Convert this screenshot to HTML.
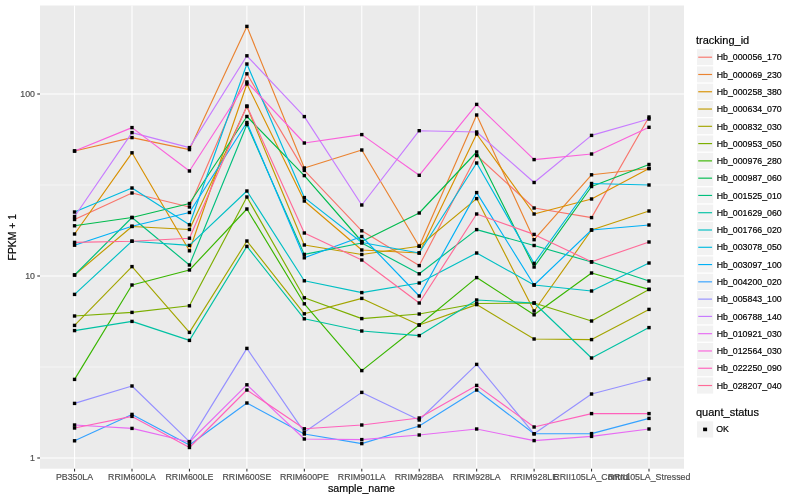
<!DOCTYPE html><html><head><meta charset="utf-8"><title>plot</title><style>html,body{margin:0;padding:0;background:#fff}svg{display:block}text{font-family:"Liberation Sans",Arial,sans-serif;stroke-width:0.18px}</style></head><body>
<svg width="800" height="500" viewBox="0 0 800 500">
<rect width="800" height="500" fill="#fff"/>
<rect x="40" y="5.5" width="644" height="463.2" fill="#EBEBEB"/>
<line x1="40" x2="684" y1="185" y2="185" stroke="#fff" stroke-width="0.55"/>
<line x1="40" x2="684" y1="367" y2="367" stroke="#fff" stroke-width="0.55"/>
<line x1="40" x2="684" y1="94" y2="94" stroke="#fff" stroke-width="1.07"/>
<line x1="40" x2="684" y1="276" y2="276" stroke="#fff" stroke-width="1.07"/>
<line x1="40" x2="684" y1="458" y2="458" stroke="#fff" stroke-width="1.07"/>
<line x1="74.56" x2="74.56" y1="5.5" y2="468.7" stroke="#fff" stroke-width="1.07"/>
<line x1="132.00" x2="132.00" y1="5.5" y2="468.7" stroke="#fff" stroke-width="1.07"/>
<line x1="189.44" x2="189.44" y1="5.5" y2="468.7" stroke="#fff" stroke-width="1.07"/>
<line x1="246.89" x2="246.89" y1="5.5" y2="468.7" stroke="#fff" stroke-width="1.07"/>
<line x1="304.33" x2="304.33" y1="5.5" y2="468.7" stroke="#fff" stroke-width="1.07"/>
<line x1="361.78" x2="361.78" y1="5.5" y2="468.7" stroke="#fff" stroke-width="1.07"/>
<line x1="419.22" x2="419.22" y1="5.5" y2="468.7" stroke="#fff" stroke-width="1.07"/>
<line x1="476.66" x2="476.66" y1="5.5" y2="468.7" stroke="#fff" stroke-width="1.07"/>
<line x1="534.11" x2="534.11" y1="5.5" y2="468.7" stroke="#fff" stroke-width="1.07"/>
<line x1="591.55" x2="591.55" y1="5.5" y2="468.7" stroke="#fff" stroke-width="1.07"/>
<line x1="649.00" x2="649.00" y1="5.5" y2="468.7" stroke="#fff" stroke-width="1.07"/>
<polyline fill="none" stroke="#F8766D" stroke-width="1.15" stroke-linejoin="round" points="74.56,219.50 132.00,193.00 189.44,207.00 246.89,73.80 304.33,170.40 361.78,230.80 419.22,265.60 476.66,155.50 534.11,208.00 591.55,217.60 649.00,117.00"/>
<polyline fill="none" stroke="#EA8331" stroke-width="1.15" stroke-linejoin="round" points="74.56,151.00 132.00,137.60 189.44,149.60 246.89,26.40 304.33,168.00 361.78,150.00 419.22,246.20 476.66,115.00 534.11,239.70 591.55,174.80 649.00,168.50"/>
<polyline fill="none" stroke="#D89000" stroke-width="1.15" stroke-linejoin="round" points="74.56,234.00 132.00,152.80 189.44,250.80 246.89,84.00 304.33,201.00 361.78,250.00 419.22,253.00 476.66,134.00 534.11,214.00 591.55,199.00 649.00,168.50"/>
<polyline fill="none" stroke="#C09B00" stroke-width="1.15" stroke-linejoin="round" points="74.56,275.00 132.00,226.50 189.44,229.50 246.89,106.50 304.33,245.00 361.78,254.50 419.22,246.20 476.66,198.60 534.11,311.00 591.55,230.00 649.00,211.00"/>
<polyline fill="none" stroke="#A3A500" stroke-width="1.15" stroke-linejoin="round" points="74.56,325.40 132.00,266.60 189.44,332.40 246.89,241.00 304.33,313.80 361.78,298.40 419.22,325.00 476.66,304.60 534.11,339.00 591.55,339.60 649.00,309.40"/>
<polyline fill="none" stroke="#7CAE00" stroke-width="1.15" stroke-linejoin="round" points="74.56,316.00 132.00,312.40 189.44,305.80 246.89,197.00 304.33,297.80 361.78,318.60 419.22,314.00 476.66,303.50 534.11,303.00 591.55,321.00 649.00,289.40"/>
<polyline fill="none" stroke="#39B600" stroke-width="1.15" stroke-linejoin="round" points="74.56,379.40 132.00,285.00 189.44,270.00 246.89,209.00 304.33,303.80 361.78,370.60 419.22,325.00 476.66,277.60 534.11,314.80 591.55,273.00 649.00,289.40"/>
<polyline fill="none" stroke="#00BB4E" stroke-width="1.15" stroke-linejoin="round" points="74.56,225.80 132.00,217.50 189.44,203.50 246.89,116.50 304.33,175.60 361.78,241.50 419.22,213.00 476.66,152.00 534.11,267.00 591.55,186.50 649.00,164.50"/>
<polyline fill="none" stroke="#00BF7D" stroke-width="1.15" stroke-linejoin="round" points="74.56,275.00 132.00,217.50 189.44,265.00 246.89,124.50 304.33,254.40 361.78,243.00 419.22,273.80 476.66,229.60 534.11,245.50 591.55,262.00 649.00,281.00"/>
<polyline fill="none" stroke="#00C1A3" stroke-width="1.15" stroke-linejoin="round" points="74.56,330.60 132.00,321.40 189.44,340.40 246.89,246.40 304.33,318.80 361.78,331.00 419.22,335.60 476.66,300.00 534.11,303.00 591.55,358.00 649.00,327.60"/>
<polyline fill="none" stroke="#00BFC4" stroke-width="1.15" stroke-linejoin="round" points="74.56,294.40 132.00,241.20 189.44,245.40 246.89,191.00 304.33,280.80 361.78,292.60 419.22,283.00 476.66,253.00 534.11,285.00 591.55,291.00 649.00,263.00"/>
<polyline fill="none" stroke="#00BAE0" stroke-width="1.15" stroke-linejoin="round" points="74.56,212.00 132.00,188.00 189.44,224.80 246.89,64.00 304.33,197.60 361.78,242.50 419.22,253.00 476.66,163.00 534.11,263.40 591.55,183.50 649.00,185.00"/>
<polyline fill="none" stroke="#00B0F6" stroke-width="1.15" stroke-linejoin="round" points="74.56,245.20 132.00,226.20 189.44,212.50 246.89,122.50 304.33,257.80 361.78,236.50 419.22,296.00 476.66,192.60 534.11,285.00 591.55,230.00 649.00,225.00"/>
<polyline fill="none" stroke="#35A2FF" stroke-width="1.15" stroke-linejoin="round" points="74.56,440.80 132.00,414.40 189.44,445.00 246.89,403.00 304.33,434.00 361.78,443.60 419.22,426.00 476.66,390.00 534.11,433.80 591.55,433.60 649.00,418.40"/>
<polyline fill="none" stroke="#9590FF" stroke-width="1.15" stroke-linejoin="round" points="74.56,403.40 132.00,386.00 189.44,441.60 246.89,348.40 304.33,432.20 361.78,392.40 419.22,420.00 476.66,364.40 534.11,433.80 591.55,394.00 649.00,379.00"/>
<polyline fill="none" stroke="#C77CFF" stroke-width="1.15" stroke-linejoin="round" points="74.56,216.50 132.00,132.60 189.44,147.60 246.89,55.80 304.33,116.60 361.78,205.00 419.22,130.70 476.66,132.00 534.11,182.50 591.55,135.40 649.00,119.00"/>
<polyline fill="none" stroke="#E76BF3" stroke-width="1.15" stroke-linejoin="round" points="74.56,425.00 132.00,428.40 189.44,442.00 246.89,384.80 304.33,439.00 361.78,439.60 419.22,435.00 476.66,429.00 534.11,440.60 591.55,436.40 649.00,429.00"/>
<polyline fill="none" stroke="#FA62DB" stroke-width="1.15" stroke-linejoin="round" points="74.56,151.00 132.00,127.60 189.44,171.00 246.89,82.00 304.33,143.00 361.78,134.60 419.22,175.30 476.66,104.40 534.11,159.60 591.55,154.00 649.00,127.30"/>
<polyline fill="none" stroke="#FF62BC" stroke-width="1.15" stroke-linejoin="round" points="74.56,428.00 132.00,416.40 189.44,447.50 246.89,390.00 304.33,428.80 361.78,425.00 419.22,418.00 476.66,385.40 534.11,427.00 591.55,413.60 649.00,413.60"/>
<polyline fill="none" stroke="#FF6A98" stroke-width="1.15" stroke-linejoin="round" points="74.56,242.40 132.00,241.20 189.44,238.20 246.89,106.00 304.33,233.00 361.78,260.00 419.22,303.00 476.66,214.00 534.11,234.40 591.55,261.80 649.00,242.00"/>
<g fill="#000">
<rect x="72.86" y="217.80" width="3.4" height="3.4"/>
<rect x="130.30" y="191.30" width="3.4" height="3.4"/>
<rect x="187.74" y="205.30" width="3.4" height="3.4"/>
<rect x="245.19" y="72.10" width="3.4" height="3.4"/>
<rect x="302.63" y="168.70" width="3.4" height="3.4"/>
<rect x="360.08" y="229.10" width="3.4" height="3.4"/>
<rect x="417.52" y="263.90" width="3.4" height="3.4"/>
<rect x="474.96" y="153.80" width="3.4" height="3.4"/>
<rect x="532.41" y="206.30" width="3.4" height="3.4"/>
<rect x="589.85" y="215.90" width="3.4" height="3.4"/>
<rect x="647.30" y="115.30" width="3.4" height="3.4"/>
<rect x="72.86" y="149.30" width="3.4" height="3.4"/>
<rect x="130.30" y="135.90" width="3.4" height="3.4"/>
<rect x="187.74" y="147.90" width="3.4" height="3.4"/>
<rect x="245.19" y="24.70" width="3.4" height="3.4"/>
<rect x="302.63" y="166.30" width="3.4" height="3.4"/>
<rect x="360.08" y="148.30" width="3.4" height="3.4"/>
<rect x="417.52" y="244.50" width="3.4" height="3.4"/>
<rect x="474.96" y="113.30" width="3.4" height="3.4"/>
<rect x="532.41" y="238.00" width="3.4" height="3.4"/>
<rect x="589.85" y="173.10" width="3.4" height="3.4"/>
<rect x="647.30" y="166.80" width="3.4" height="3.4"/>
<rect x="72.86" y="232.30" width="3.4" height="3.4"/>
<rect x="130.30" y="151.10" width="3.4" height="3.4"/>
<rect x="187.74" y="249.10" width="3.4" height="3.4"/>
<rect x="245.19" y="82.30" width="3.4" height="3.4"/>
<rect x="302.63" y="199.30" width="3.4" height="3.4"/>
<rect x="360.08" y="248.30" width="3.4" height="3.4"/>
<rect x="417.52" y="251.30" width="3.4" height="3.4"/>
<rect x="474.96" y="132.30" width="3.4" height="3.4"/>
<rect x="532.41" y="212.30" width="3.4" height="3.4"/>
<rect x="589.85" y="197.30" width="3.4" height="3.4"/>
<rect x="647.30" y="166.80" width="3.4" height="3.4"/>
<rect x="72.86" y="273.30" width="3.4" height="3.4"/>
<rect x="130.30" y="224.80" width="3.4" height="3.4"/>
<rect x="187.74" y="227.80" width="3.4" height="3.4"/>
<rect x="245.19" y="104.80" width="3.4" height="3.4"/>
<rect x="302.63" y="243.30" width="3.4" height="3.4"/>
<rect x="360.08" y="252.80" width="3.4" height="3.4"/>
<rect x="417.52" y="244.50" width="3.4" height="3.4"/>
<rect x="474.96" y="196.90" width="3.4" height="3.4"/>
<rect x="532.41" y="309.30" width="3.4" height="3.4"/>
<rect x="589.85" y="228.30" width="3.4" height="3.4"/>
<rect x="647.30" y="209.30" width="3.4" height="3.4"/>
<rect x="72.86" y="323.70" width="3.4" height="3.4"/>
<rect x="130.30" y="264.90" width="3.4" height="3.4"/>
<rect x="187.74" y="330.70" width="3.4" height="3.4"/>
<rect x="245.19" y="239.30" width="3.4" height="3.4"/>
<rect x="302.63" y="312.10" width="3.4" height="3.4"/>
<rect x="360.08" y="296.70" width="3.4" height="3.4"/>
<rect x="417.52" y="323.30" width="3.4" height="3.4"/>
<rect x="474.96" y="302.90" width="3.4" height="3.4"/>
<rect x="532.41" y="337.30" width="3.4" height="3.4"/>
<rect x="589.85" y="337.90" width="3.4" height="3.4"/>
<rect x="647.30" y="307.70" width="3.4" height="3.4"/>
<rect x="72.86" y="314.30" width="3.4" height="3.4"/>
<rect x="130.30" y="310.70" width="3.4" height="3.4"/>
<rect x="187.74" y="304.10" width="3.4" height="3.4"/>
<rect x="245.19" y="195.30" width="3.4" height="3.4"/>
<rect x="302.63" y="296.10" width="3.4" height="3.4"/>
<rect x="360.08" y="316.90" width="3.4" height="3.4"/>
<rect x="417.52" y="312.30" width="3.4" height="3.4"/>
<rect x="474.96" y="301.80" width="3.4" height="3.4"/>
<rect x="532.41" y="301.30" width="3.4" height="3.4"/>
<rect x="589.85" y="319.30" width="3.4" height="3.4"/>
<rect x="647.30" y="287.70" width="3.4" height="3.4"/>
<rect x="72.86" y="377.70" width="3.4" height="3.4"/>
<rect x="130.30" y="283.30" width="3.4" height="3.4"/>
<rect x="187.74" y="268.30" width="3.4" height="3.4"/>
<rect x="245.19" y="207.30" width="3.4" height="3.4"/>
<rect x="302.63" y="302.10" width="3.4" height="3.4"/>
<rect x="360.08" y="368.90" width="3.4" height="3.4"/>
<rect x="417.52" y="323.30" width="3.4" height="3.4"/>
<rect x="474.96" y="275.90" width="3.4" height="3.4"/>
<rect x="532.41" y="313.10" width="3.4" height="3.4"/>
<rect x="589.85" y="271.30" width="3.4" height="3.4"/>
<rect x="647.30" y="287.70" width="3.4" height="3.4"/>
<rect x="72.86" y="224.10" width="3.4" height="3.4"/>
<rect x="130.30" y="215.80" width="3.4" height="3.4"/>
<rect x="187.74" y="201.80" width="3.4" height="3.4"/>
<rect x="245.19" y="114.80" width="3.4" height="3.4"/>
<rect x="302.63" y="173.90" width="3.4" height="3.4"/>
<rect x="360.08" y="239.80" width="3.4" height="3.4"/>
<rect x="417.52" y="211.30" width="3.4" height="3.4"/>
<rect x="474.96" y="150.30" width="3.4" height="3.4"/>
<rect x="532.41" y="265.30" width="3.4" height="3.4"/>
<rect x="589.85" y="184.80" width="3.4" height="3.4"/>
<rect x="647.30" y="162.80" width="3.4" height="3.4"/>
<rect x="72.86" y="273.30" width="3.4" height="3.4"/>
<rect x="130.30" y="215.80" width="3.4" height="3.4"/>
<rect x="187.74" y="263.30" width="3.4" height="3.4"/>
<rect x="245.19" y="122.80" width="3.4" height="3.4"/>
<rect x="302.63" y="252.70" width="3.4" height="3.4"/>
<rect x="360.08" y="241.30" width="3.4" height="3.4"/>
<rect x="417.52" y="272.10" width="3.4" height="3.4"/>
<rect x="474.96" y="227.90" width="3.4" height="3.4"/>
<rect x="532.41" y="243.80" width="3.4" height="3.4"/>
<rect x="589.85" y="260.30" width="3.4" height="3.4"/>
<rect x="647.30" y="279.30" width="3.4" height="3.4"/>
<rect x="72.86" y="328.90" width="3.4" height="3.4"/>
<rect x="130.30" y="319.70" width="3.4" height="3.4"/>
<rect x="187.74" y="338.70" width="3.4" height="3.4"/>
<rect x="245.19" y="244.70" width="3.4" height="3.4"/>
<rect x="302.63" y="317.10" width="3.4" height="3.4"/>
<rect x="360.08" y="329.30" width="3.4" height="3.4"/>
<rect x="417.52" y="333.90" width="3.4" height="3.4"/>
<rect x="474.96" y="298.30" width="3.4" height="3.4"/>
<rect x="532.41" y="301.30" width="3.4" height="3.4"/>
<rect x="589.85" y="356.30" width="3.4" height="3.4"/>
<rect x="647.30" y="325.90" width="3.4" height="3.4"/>
<rect x="72.86" y="292.70" width="3.4" height="3.4"/>
<rect x="130.30" y="239.50" width="3.4" height="3.4"/>
<rect x="187.74" y="243.70" width="3.4" height="3.4"/>
<rect x="245.19" y="189.30" width="3.4" height="3.4"/>
<rect x="302.63" y="279.10" width="3.4" height="3.4"/>
<rect x="360.08" y="290.90" width="3.4" height="3.4"/>
<rect x="417.52" y="281.30" width="3.4" height="3.4"/>
<rect x="474.96" y="251.30" width="3.4" height="3.4"/>
<rect x="532.41" y="283.30" width="3.4" height="3.4"/>
<rect x="589.85" y="289.30" width="3.4" height="3.4"/>
<rect x="647.30" y="261.30" width="3.4" height="3.4"/>
<rect x="72.86" y="210.30" width="3.4" height="3.4"/>
<rect x="130.30" y="186.30" width="3.4" height="3.4"/>
<rect x="187.74" y="223.10" width="3.4" height="3.4"/>
<rect x="245.19" y="62.30" width="3.4" height="3.4"/>
<rect x="302.63" y="195.90" width="3.4" height="3.4"/>
<rect x="360.08" y="240.80" width="3.4" height="3.4"/>
<rect x="417.52" y="251.30" width="3.4" height="3.4"/>
<rect x="474.96" y="161.30" width="3.4" height="3.4"/>
<rect x="532.41" y="261.70" width="3.4" height="3.4"/>
<rect x="589.85" y="181.80" width="3.4" height="3.4"/>
<rect x="647.30" y="183.30" width="3.4" height="3.4"/>
<rect x="72.86" y="243.50" width="3.4" height="3.4"/>
<rect x="130.30" y="224.50" width="3.4" height="3.4"/>
<rect x="187.74" y="210.80" width="3.4" height="3.4"/>
<rect x="245.19" y="120.80" width="3.4" height="3.4"/>
<rect x="302.63" y="256.10" width="3.4" height="3.4"/>
<rect x="360.08" y="234.80" width="3.4" height="3.4"/>
<rect x="417.52" y="294.30" width="3.4" height="3.4"/>
<rect x="474.96" y="190.90" width="3.4" height="3.4"/>
<rect x="532.41" y="283.30" width="3.4" height="3.4"/>
<rect x="589.85" y="228.30" width="3.4" height="3.4"/>
<rect x="647.30" y="223.30" width="3.4" height="3.4"/>
<rect x="72.86" y="439.10" width="3.4" height="3.4"/>
<rect x="130.30" y="412.70" width="3.4" height="3.4"/>
<rect x="187.74" y="443.30" width="3.4" height="3.4"/>
<rect x="245.19" y="401.30" width="3.4" height="3.4"/>
<rect x="302.63" y="432.30" width="3.4" height="3.4"/>
<rect x="360.08" y="441.90" width="3.4" height="3.4"/>
<rect x="417.52" y="424.30" width="3.4" height="3.4"/>
<rect x="474.96" y="388.30" width="3.4" height="3.4"/>
<rect x="532.41" y="432.10" width="3.4" height="3.4"/>
<rect x="589.85" y="431.90" width="3.4" height="3.4"/>
<rect x="647.30" y="416.70" width="3.4" height="3.4"/>
<rect x="72.86" y="401.70" width="3.4" height="3.4"/>
<rect x="130.30" y="384.30" width="3.4" height="3.4"/>
<rect x="187.74" y="439.90" width="3.4" height="3.4"/>
<rect x="245.19" y="346.70" width="3.4" height="3.4"/>
<rect x="302.63" y="430.50" width="3.4" height="3.4"/>
<rect x="360.08" y="390.70" width="3.4" height="3.4"/>
<rect x="417.52" y="418.30" width="3.4" height="3.4"/>
<rect x="474.96" y="362.70" width="3.4" height="3.4"/>
<rect x="532.41" y="432.10" width="3.4" height="3.4"/>
<rect x="589.85" y="392.30" width="3.4" height="3.4"/>
<rect x="647.30" y="377.30" width="3.4" height="3.4"/>
<rect x="72.86" y="214.80" width="3.4" height="3.4"/>
<rect x="130.30" y="130.90" width="3.4" height="3.4"/>
<rect x="187.74" y="145.90" width="3.4" height="3.4"/>
<rect x="245.19" y="54.10" width="3.4" height="3.4"/>
<rect x="302.63" y="114.90" width="3.4" height="3.4"/>
<rect x="360.08" y="203.30" width="3.4" height="3.4"/>
<rect x="417.52" y="129.00" width="3.4" height="3.4"/>
<rect x="474.96" y="130.30" width="3.4" height="3.4"/>
<rect x="532.41" y="180.80" width="3.4" height="3.4"/>
<rect x="589.85" y="133.70" width="3.4" height="3.4"/>
<rect x="647.30" y="117.30" width="3.4" height="3.4"/>
<rect x="72.86" y="423.30" width="3.4" height="3.4"/>
<rect x="130.30" y="426.70" width="3.4" height="3.4"/>
<rect x="187.74" y="440.30" width="3.4" height="3.4"/>
<rect x="245.19" y="383.10" width="3.4" height="3.4"/>
<rect x="302.63" y="437.30" width="3.4" height="3.4"/>
<rect x="360.08" y="437.90" width="3.4" height="3.4"/>
<rect x="417.52" y="433.30" width="3.4" height="3.4"/>
<rect x="474.96" y="427.30" width="3.4" height="3.4"/>
<rect x="532.41" y="438.90" width="3.4" height="3.4"/>
<rect x="589.85" y="434.70" width="3.4" height="3.4"/>
<rect x="647.30" y="427.30" width="3.4" height="3.4"/>
<rect x="72.86" y="149.30" width="3.4" height="3.4"/>
<rect x="130.30" y="125.90" width="3.4" height="3.4"/>
<rect x="187.74" y="169.30" width="3.4" height="3.4"/>
<rect x="245.19" y="80.30" width="3.4" height="3.4"/>
<rect x="302.63" y="141.30" width="3.4" height="3.4"/>
<rect x="360.08" y="132.90" width="3.4" height="3.4"/>
<rect x="417.52" y="173.60" width="3.4" height="3.4"/>
<rect x="474.96" y="102.70" width="3.4" height="3.4"/>
<rect x="532.41" y="157.90" width="3.4" height="3.4"/>
<rect x="589.85" y="152.30" width="3.4" height="3.4"/>
<rect x="647.30" y="125.60" width="3.4" height="3.4"/>
<rect x="72.86" y="426.30" width="3.4" height="3.4"/>
<rect x="130.30" y="414.70" width="3.4" height="3.4"/>
<rect x="187.74" y="445.80" width="3.4" height="3.4"/>
<rect x="245.19" y="388.30" width="3.4" height="3.4"/>
<rect x="302.63" y="427.10" width="3.4" height="3.4"/>
<rect x="360.08" y="423.30" width="3.4" height="3.4"/>
<rect x="417.52" y="416.30" width="3.4" height="3.4"/>
<rect x="474.96" y="383.70" width="3.4" height="3.4"/>
<rect x="532.41" y="425.30" width="3.4" height="3.4"/>
<rect x="589.85" y="411.90" width="3.4" height="3.4"/>
<rect x="647.30" y="411.90" width="3.4" height="3.4"/>
<rect x="72.86" y="240.70" width="3.4" height="3.4"/>
<rect x="130.30" y="239.50" width="3.4" height="3.4"/>
<rect x="187.74" y="236.50" width="3.4" height="3.4"/>
<rect x="245.19" y="104.30" width="3.4" height="3.4"/>
<rect x="302.63" y="231.30" width="3.4" height="3.4"/>
<rect x="360.08" y="258.30" width="3.4" height="3.4"/>
<rect x="417.52" y="301.30" width="3.4" height="3.4"/>
<rect x="474.96" y="212.30" width="3.4" height="3.4"/>
<rect x="532.41" y="232.70" width="3.4" height="3.4"/>
<rect x="589.85" y="260.10" width="3.4" height="3.4"/>
<rect x="647.30" y="240.30" width="3.4" height="3.4"/>
</g>
<g stroke="#333" stroke-width="1.07">
<line x1="37.25" x2="40" y1="94" y2="94"/>
<line x1="37.25" x2="40" y1="276" y2="276"/>
<line x1="37.25" x2="40" y1="458" y2="458"/>
<line x1="74.56" x2="74.56" y1="468.7" y2="471.45"/>
<line x1="132.00" x2="132.00" y1="468.7" y2="471.45"/>
<line x1="189.44" x2="189.44" y1="468.7" y2="471.45"/>
<line x1="246.89" x2="246.89" y1="468.7" y2="471.45"/>
<line x1="304.33" x2="304.33" y1="468.7" y2="471.45"/>
<line x1="361.78" x2="361.78" y1="468.7" y2="471.45"/>
<line x1="419.22" x2="419.22" y1="468.7" y2="471.45"/>
<line x1="476.66" x2="476.66" y1="468.7" y2="471.45"/>
<line x1="534.11" x2="534.11" y1="468.7" y2="471.45"/>
<line x1="591.55" x2="591.55" y1="468.7" y2="471.45"/>
<line x1="649.00" x2="649.00" y1="468.7" y2="471.45"/>
</g>
<g font-size="8.8" fill="#4D4D4D" stroke="#4D4D4D">
<text x="35" y="97.15" text-anchor="end">100</text>
<text x="35" y="279.15" text-anchor="end">10</text>
<text x="35" y="461.15" text-anchor="end">1</text>
<text x="74.56" y="480" text-anchor="middle">PB350LA</text>
<text x="132.00" y="480" text-anchor="middle">RRIM600LA</text>
<text x="189.44" y="480" text-anchor="middle">RRIM600LE</text>
<text x="246.89" y="480" text-anchor="middle">RRIM600SE</text>
<text x="304.33" y="480" text-anchor="middle">RRIM600PE</text>
<text x="361.78" y="480" text-anchor="middle">RRIM901LA</text>
<text x="419.22" y="480" text-anchor="middle">RRIM928BA</text>
<text x="476.66" y="480" text-anchor="middle">RRIM928LA</text>
<text x="534.11" y="480" text-anchor="middle">RRIM928LE</text>
<text x="591.55" y="480" text-anchor="middle">RRII105LA_Control</text>
<text x="649.00" y="480" text-anchor="middle">RRII105LA_Stressed</text>
</g>
<g font-size="11" fill="#000" stroke="#000">
<text x="361.5" y="491.6" text-anchor="middle" textLength="67" lengthAdjust="spacingAndGlyphs">sample_name</text>
<text transform="translate(16.2,237.2) rotate(-90)" text-anchor="middle" textLength="46.5" lengthAdjust="spacingAndGlyphs">FPKM + 1</text>
<text x="696" y="44">tracking_id</text>
<text x="696" y="415.6">quant_status</text>
</g>
<rect x="696.5" y="48.56" width="17.28" height="17.28" fill="#F2F2F2" stroke="#fff" stroke-width="1.07"/>
<line x1="698.23" x2="712.05" y1="57.20" y2="57.20" stroke="#F8766D" stroke-width="1.15"/>
<text x="716.7" y="60.40" font-size="8.8" fill="#000" stroke="#000">Hb_000056_170</text>
<rect x="696.5" y="65.84" width="17.28" height="17.28" fill="#F2F2F2" stroke="#fff" stroke-width="1.07"/>
<line x1="698.23" x2="712.05" y1="74.48" y2="74.48" stroke="#EA8331" stroke-width="1.15"/>
<text x="716.7" y="77.68" font-size="8.8" fill="#000" stroke="#000">Hb_000069_230</text>
<rect x="696.5" y="83.12" width="17.28" height="17.28" fill="#F2F2F2" stroke="#fff" stroke-width="1.07"/>
<line x1="698.23" x2="712.05" y1="91.76" y2="91.76" stroke="#D89000" stroke-width="1.15"/>
<text x="716.7" y="94.96" font-size="8.8" fill="#000" stroke="#000">Hb_000258_380</text>
<rect x="696.5" y="100.40" width="17.28" height="17.28" fill="#F2F2F2" stroke="#fff" stroke-width="1.07"/>
<line x1="698.23" x2="712.05" y1="109.04" y2="109.04" stroke="#C09B00" stroke-width="1.15"/>
<text x="716.7" y="112.24" font-size="8.8" fill="#000" stroke="#000">Hb_000634_070</text>
<rect x="696.5" y="117.68" width="17.28" height="17.28" fill="#F2F2F2" stroke="#fff" stroke-width="1.07"/>
<line x1="698.23" x2="712.05" y1="126.32" y2="126.32" stroke="#A3A500" stroke-width="1.15"/>
<text x="716.7" y="129.52" font-size="8.8" fill="#000" stroke="#000">Hb_000832_030</text>
<rect x="696.5" y="134.96" width="17.28" height="17.28" fill="#F2F2F2" stroke="#fff" stroke-width="1.07"/>
<line x1="698.23" x2="712.05" y1="143.60" y2="143.60" stroke="#7CAE00" stroke-width="1.15"/>
<text x="716.7" y="146.80" font-size="8.8" fill="#000" stroke="#000">Hb_000953_050</text>
<rect x="696.5" y="152.24" width="17.28" height="17.28" fill="#F2F2F2" stroke="#fff" stroke-width="1.07"/>
<line x1="698.23" x2="712.05" y1="160.88" y2="160.88" stroke="#39B600" stroke-width="1.15"/>
<text x="716.7" y="164.08" font-size="8.8" fill="#000" stroke="#000">Hb_000976_280</text>
<rect x="696.5" y="169.52" width="17.28" height="17.28" fill="#F2F2F2" stroke="#fff" stroke-width="1.07"/>
<line x1="698.23" x2="712.05" y1="178.16" y2="178.16" stroke="#00BB4E" stroke-width="1.15"/>
<text x="716.7" y="181.36" font-size="8.8" fill="#000" stroke="#000">Hb_000987_060</text>
<rect x="696.5" y="186.80" width="17.28" height="17.28" fill="#F2F2F2" stroke="#fff" stroke-width="1.07"/>
<line x1="698.23" x2="712.05" y1="195.44" y2="195.44" stroke="#00BF7D" stroke-width="1.15"/>
<text x="716.7" y="198.64" font-size="8.8" fill="#000" stroke="#000">Hb_001525_010</text>
<rect x="696.5" y="204.08" width="17.28" height="17.28" fill="#F2F2F2" stroke="#fff" stroke-width="1.07"/>
<line x1="698.23" x2="712.05" y1="212.72" y2="212.72" stroke="#00C1A3" stroke-width="1.15"/>
<text x="716.7" y="215.92" font-size="8.8" fill="#000" stroke="#000">Hb_001629_060</text>
<rect x="696.5" y="221.36" width="17.28" height="17.28" fill="#F2F2F2" stroke="#fff" stroke-width="1.07"/>
<line x1="698.23" x2="712.05" y1="230.00" y2="230.00" stroke="#00BFC4" stroke-width="1.15"/>
<text x="716.7" y="233.20" font-size="8.8" fill="#000" stroke="#000">Hb_001766_020</text>
<rect x="696.5" y="238.64" width="17.28" height="17.28" fill="#F2F2F2" stroke="#fff" stroke-width="1.07"/>
<line x1="698.23" x2="712.05" y1="247.28" y2="247.28" stroke="#00BAE0" stroke-width="1.15"/>
<text x="716.7" y="250.48" font-size="8.8" fill="#000" stroke="#000">Hb_003078_050</text>
<rect x="696.5" y="255.92" width="17.28" height="17.28" fill="#F2F2F2" stroke="#fff" stroke-width="1.07"/>
<line x1="698.23" x2="712.05" y1="264.56" y2="264.56" stroke="#00B0F6" stroke-width="1.15"/>
<text x="716.7" y="267.76" font-size="8.8" fill="#000" stroke="#000">Hb_003097_100</text>
<rect x="696.5" y="273.20" width="17.28" height="17.28" fill="#F2F2F2" stroke="#fff" stroke-width="1.07"/>
<line x1="698.23" x2="712.05" y1="281.84" y2="281.84" stroke="#35A2FF" stroke-width="1.15"/>
<text x="716.7" y="285.04" font-size="8.8" fill="#000" stroke="#000">Hb_004200_020</text>
<rect x="696.5" y="290.48" width="17.28" height="17.28" fill="#F2F2F2" stroke="#fff" stroke-width="1.07"/>
<line x1="698.23" x2="712.05" y1="299.12" y2="299.12" stroke="#9590FF" stroke-width="1.15"/>
<text x="716.7" y="302.32" font-size="8.8" fill="#000" stroke="#000">Hb_005843_100</text>
<rect x="696.5" y="307.76" width="17.28" height="17.28" fill="#F2F2F2" stroke="#fff" stroke-width="1.07"/>
<line x1="698.23" x2="712.05" y1="316.40" y2="316.40" stroke="#C77CFF" stroke-width="1.15"/>
<text x="716.7" y="319.60" font-size="8.8" fill="#000" stroke="#000">Hb_006788_140</text>
<rect x="696.5" y="325.04" width="17.28" height="17.28" fill="#F2F2F2" stroke="#fff" stroke-width="1.07"/>
<line x1="698.23" x2="712.05" y1="333.68" y2="333.68" stroke="#E76BF3" stroke-width="1.15"/>
<text x="716.7" y="336.88" font-size="8.8" fill="#000" stroke="#000">Hb_010921_030</text>
<rect x="696.5" y="342.32" width="17.28" height="17.28" fill="#F2F2F2" stroke="#fff" stroke-width="1.07"/>
<line x1="698.23" x2="712.05" y1="350.96" y2="350.96" stroke="#FA62DB" stroke-width="1.15"/>
<text x="716.7" y="354.16" font-size="8.8" fill="#000" stroke="#000">Hb_012564_030</text>
<rect x="696.5" y="359.60" width="17.28" height="17.28" fill="#F2F2F2" stroke="#fff" stroke-width="1.07"/>
<line x1="698.23" x2="712.05" y1="368.24" y2="368.24" stroke="#FF62BC" stroke-width="1.15"/>
<text x="716.7" y="371.44" font-size="8.8" fill="#000" stroke="#000">Hb_022250_090</text>
<rect x="696.5" y="376.88" width="17.28" height="17.28" fill="#F2F2F2" stroke="#fff" stroke-width="1.07"/>
<line x1="698.23" x2="712.05" y1="385.52" y2="385.52" stroke="#FF6A98" stroke-width="1.15"/>
<text x="716.7" y="388.72" font-size="8.8" fill="#000" stroke="#000">Hb_028207_040</text>
<rect x="696.5" y="420.76" width="17.28" height="17.28" fill="#F2F2F2" stroke="#fff" stroke-width="1.07"/>
<rect x="703.10" y="427.60" width="4" height="3.6" fill="#000"/>
<text x="716.2" y="431.60" font-size="8.8" fill="#000" stroke="#000">OK</text>
</svg></body></html>
